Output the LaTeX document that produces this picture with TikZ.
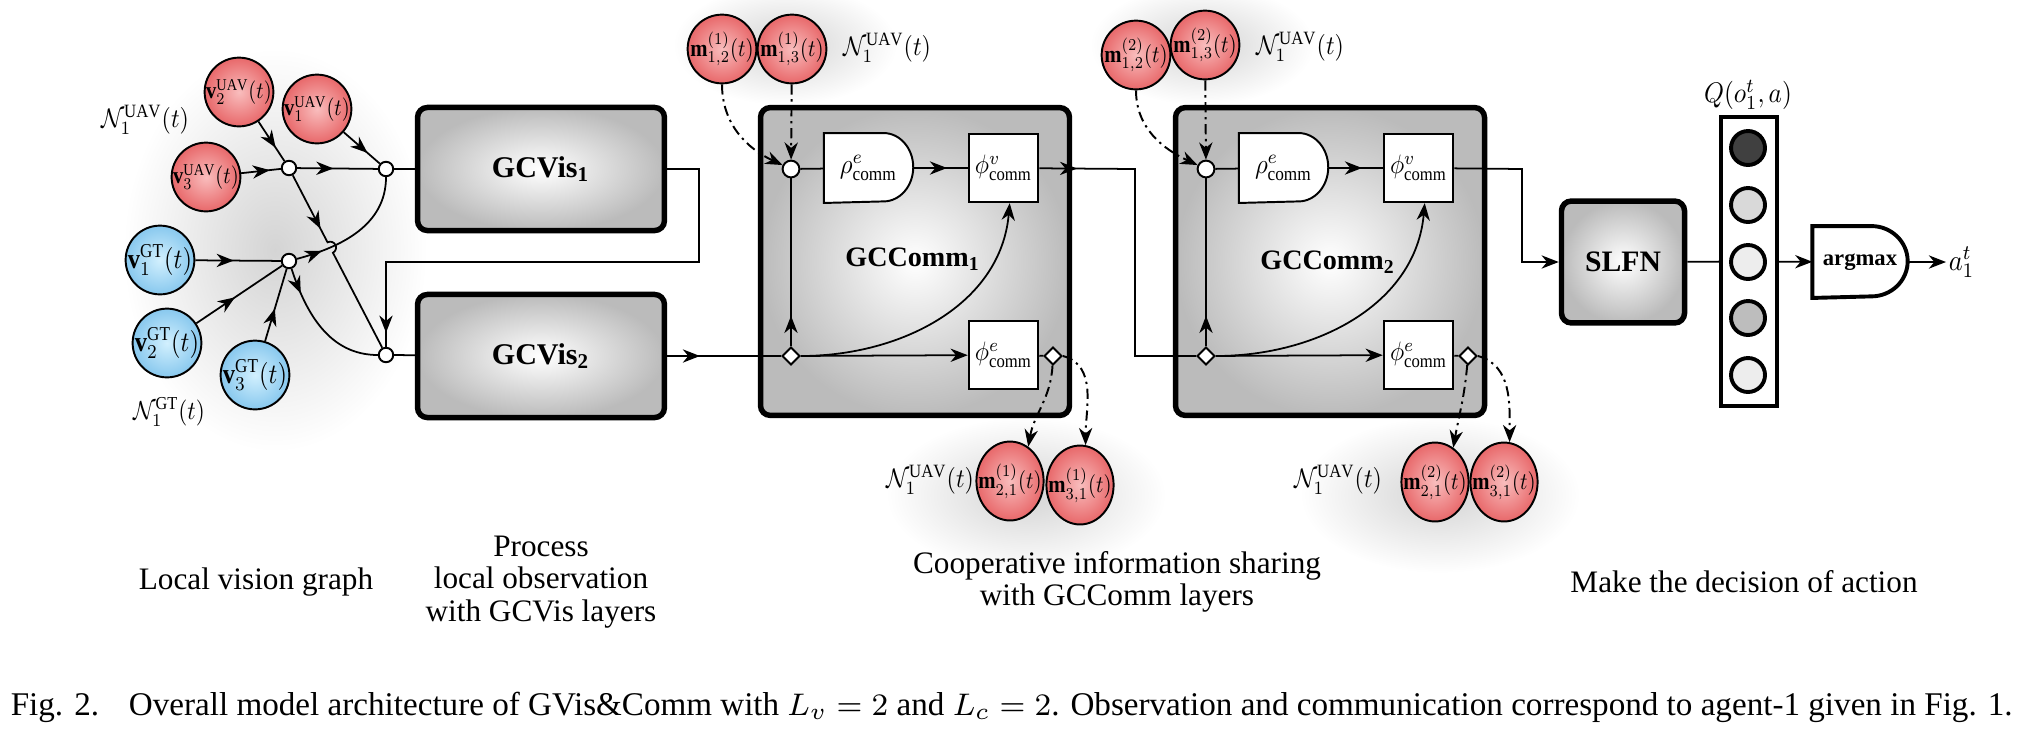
\documentclass[tikz,border=0pt]{standalone}
\usepackage{graphicx}
\usepackage{fontspec}
\setmainfont{Liberation Serif}
\usetikzlibrary{arrows.meta,decorations.markings,shapes.geometric,calc,intersections}
\definecolor{redin}{HTML}{F9BDBD}
\definecolor{redout}{HTML}{E8686A}
\definecolor{bluein}{HTML}{D2F0FE}
\definecolor{blueout}{HTML}{88C8EE}
\definecolor{boxout}{HTML}{BBBBBB}
\definecolor{shin}{HTML}{D4D4D4}
\definecolor{qdark}{HTML}{404040}
\definecolor{qmid}{HTML}{BDBDBD}
\definecolor{qlight}{HTML}{D9D9D9}
\definecolor{qvlight}{HTML}{EDEDED}
\newcommand{\fsz}[1]{\fontsize{#1}{#1}\selectfont}
\newcommand{\fitlab}[2]{\makebox[0pt]{\scalebox{1}[1.15]{\resizebox{#1}{!}{#2}}}}
\newcommand{\fitw}[2]{\scalebox{1}[1.12]{\resizebox{#1}{!}{#2}}}
\begin{document}
\begin{tikzpicture}[x=0.256pt,y=0.256pt,
  >={Stealth[length=4.4pt,width=3.4pt,inset=1.4pt]},
  conn/.style={line width=0.45pt},
  ddash/.style={line width=0.5pt,dash pattern=on 2.6pt off 1.2pt on 0.6pt off 1.2pt},
  marr/.style={postaction={decorate},decoration={markings,mark=at position #1 with {\arrow{>}}}},
  redv/.style={circle,draw,line width=0.5pt,inner color=redin,outer color=redout,minimum size=17.6pt,inner sep=0pt},
  redme/.style={ellipse,draw,line width=0.5pt,inner color=redin,outer color=redout,minimum width=17.2pt,minimum height=20.2pt,inner sep=0pt},
  bluev/.style={circle,draw,line width=0.5pt,inner color=bluein,outer color=blueout,minimum size=17.6pt,inner sep=0pt},
  junc/.style={circle,draw,fill=white,line width=0.5pt,inner sep=0pt,minimum size=3.7pt},
  dia/.style={diamond,draw,fill=white,line width=0.5pt,inner sep=0pt,minimum size=4.6pt},
  bigbox/.style={rectangle,rounded corners=2.5pt,draw,line width=1.4pt,inner color=white,outer color=boxout,font=\bfseries\fsz{7.7}},
  fnbox/.style={rectangle,draw,fill=white,line width=0.5pt,minimum width=17.8pt,minimum height=17.5pt,inner sep=0pt},
  dcore/.style={inner sep=0pt,minimum width=22.5pt,minimum height=17.5pt},
  dline/.style={line width=0.5pt,fill=white},
  lab/.style={font=\fontsize{8}{8.3}\selectfont,align=center},
  qc/.style={circle,draw,line width=1pt,inner sep=0pt,minimum size=8.7pt},
  shadow/.style={inner color=shin,outer color=white}
]
\useasboundingbox (0,0) rectangle (2018,-728);

% ---------- shadows ----------
\path[shadow] (275,-250) ellipse [x radius=152, y radius=202];
\path[shadow] (785,-45) ellipse [x radius=112, y radius=60];
\path[shadow] (1202,-45) ellipse [x radius=112, y radius=60];
\path[shadow] (1026,-495) ellipse [x radius=140, y radius=78];
\path[shadow] (1440,-495) ellipse [x radius=140, y radius=78];

% ---------- local vision graph ----------
\node[redv] (vU2) at (239,-92) {\fitlab{16.8pt}{$\mathbf{v}_2^{\mathrm{UAV}}(t)$}};
\node[redv] (vU1) at (317,-109) {\fitlab{16.8pt}{$\mathbf{v}_1^{\mathrm{UAV}}(t)$}};
\node[redv] (vU3) at (206,-177) {\fitlab{16.8pt}{$\mathbf{v}_3^{\mathrm{UAV}}(t)$}};
\node[bluev] (vG1) at (160,-260) {\fitlab{16.4pt}{$\mathbf{v}_1^{\mathrm{GT}}(t)$}};
\node[bluev] (vG2) at (167,-343) {\fitlab{16.4pt}{$\mathbf{v}_2^{\mathrm{GT}}(t)$}};
\node[bluev] (vG3) at (255,-375) {\fitlab{16.4pt}{$\mathbf{v}_3^{\mathrm{GT}}(t)$}};
\node (NU) at (145,-120) {\fitw{22.5pt}{$\mathcal{N}_1^{\mathrm{UAV}}(t)$}};
\node (NG) at (169,-412) {\fitw{18.4pt}{$\mathcal{N}_1^{\mathrm{GT}}(t)$}};
\node[junc] (jA) at (289,-168) {};
\node[junc] (jB) at (386,-169) {};
\node[junc] (jC) at (289,-261) {};
\node[junc] (jD) at (386,-355) {};

\draw[conn,marr=0.66] (vU2) -- (jA);
\draw[conn,marr=0.72] (vU3) -- (jA);
\draw[conn,marr=0.66] (vU1) -- (jB);
\draw[conn,marr=0.45] (jA) -- (jB);
\draw[conn,marr=0.45] (vG1) -- (jC);
\draw[conn,marr=0.45] (vG2) -- (jC);
\draw[conn,marr=0.45] (vG3) -- (jC);
\draw[conn,marr=0.2] (jC) to[out=15,in=-90] (jB);
\draw[conn,marr=0.2] (jC) to[out=-72,in=180] (jD);
\path[name path=cbp] (jC) to[out=15,in=-90] (jB);
\path[name path=adp] (jA) -- (jD);
\path[name intersections={of=cbp and adp, by=X}];
\draw[conn,marr=0.3] (jA) -- ($(X)!1.5pt!(jA)$) arc[start angle=117.4, end angle=-62.6, radius=1.5pt] -- (jD);

% ---------- GCVis ----------
\node[bigbox,minimum width=63.2pt,minimum height=31.5pt] (gv1) at (541,-169) {GCVis$_{\mathbf{1}}$};
\node[bigbox,minimum width=63.2pt,minimum height=31.5pt] (gv2) at (541,-356) {GCVis$_{\mathbf{2}}$};
\draw[conn] (jB) -- (gv1);
\draw[conn] (jD) -- (gv2);
\draw[conn,marr=-3.6pt] (gv1.east) -- (699,-169) -- (699,-262) -| (jD);

% ---------- GCComm 1 ----------
\node[bigbox,minimum width=79.1pt,minimum height=78.8pt] (gc1) at (915,-261.5) {};
\node[font=\bfseries\fsz{7.2}] (gc1t) at (913,-259) {GCComm$_{\mathbf{1}}$};
\node[junc,minimum size=4.3pt] (E1) at (791,-169) {};
\node[dcore] (rho1) at (868.5,-168) {};
\draw[dline] (rho1.south west) -- (rho1.north west) -- ([xshift=-7.6pt]rho1.north east) arc[start angle=90,end angle=-90,x radius=7.6pt,y radius=8.75pt] -- cycle;
\node (rho1t) at (rho1) {\fitw{14.6pt}{$\rho^e_{\mathrm{comm}}$}};
\node[fnbox] (pv1) at (1003.5,-168) {\fitw{14.6pt}{$\phi^v_{\mathrm{comm}}$}};
\node[fnbox] (pe1) at (1003.5,-355) {\fitw{14.6pt}{$\phi^e_{\mathrm{comm}}$}};
\node[dia] (F1) at (791,-356) {};
\node[dia] (G1) at (1053,-356) {};
\draw[conn,marr=8.4pt] (gv2) -- (F1);
\draw[conn] (E1) -- (rho1);
\draw[conn,marr=0.62] (rho1) -- (pv1);
\draw[conn,marr=0.18] (F1) -- (E1);
\draw[conn,->] (F1) -- (pe1);
\draw[conn,->] (F1) to[out=0,in=-95] (pv1.-80);
\draw[conn] (pe1) -- (G1);

\node[redv] (m112) at (722,-49) {\fitlab{16.2pt}{$\mathbf{m}^{(1)}_{1,2}(t)$}};
\node[redv] (m113) at (792,-49) {\fitlab{16.2pt}{$\mathbf{m}^{(1)}_{1,3}(t)$}};
\node (N1t) at (887,-48) {\fitw{22.5pt}{$\mathcal{N}_1^{\mathrm{UAV}}(t)$}};
\draw[ddash,->] (m112) to[out=-90,in=155] (E1);
\draw[ddash,->] (m113) -- (E1);

\node[redme] (m121) at (1010,-481) {\fitlab{16.2pt}{$\mathbf{m}^{(1)}_{2,1}(t)$}};
\node[redme] (m131) at (1080,-485) {\fitlab{16.2pt}{$\mathbf{m}^{(1)}_{3,1}(t)$}};
\node (N1b) at (930,-480) {\fitw{22.5pt}{$\mathcal{N}_1^{\mathrm{UAV}}(t)$}};
\draw[ddash,->] (G1) to[out=-93,in=80] (m121.62);
\draw[ddash,->] (G1.east) to[out=-15,in=90] (m131.82);

% ---------- GCComm 2 ----------
\node[bigbox,minimum width=79.1pt,minimum height=78.8pt] (gc2) at (1330,-261.5) {};
\node[font=\bfseries\fsz{7.2}] (gc2t) at (1328,-262) {GCComm$_{\mathbf{2}}$};
\node[junc,minimum size=4.3pt] (E2) at (1206,-169) {};
\node[dcore] (rho2) at (1283.5,-168) {};
\draw[dline] (rho2.south west) -- (rho2.north west) -- ([xshift=-7.6pt]rho2.north east) arc[start angle=90,end angle=-90,x radius=7.6pt,y radius=8.75pt] -- cycle;
\node (rho2t) at (rho2) {\fitw{14.6pt}{$\rho^e_{\mathrm{comm}}$}};
\node[fnbox] (pv2) at (1418.5,-168) {\fitw{14.6pt}{$\phi^v_{\mathrm{comm}}$}};
\node[fnbox] (pe2) at (1418.5,-355) {\fitw{14.6pt}{$\phi^e_{\mathrm{comm}}$}};
\node[dia] (F2) at (1206,-356) {};
\node[dia] (G2) at (1468,-356) {};
\draw[conn,marr=9.7pt] (pv1) -- (1135,-169) |- (F2);
\draw[conn] (E2) -- (rho2);
\draw[conn,marr=0.62] (rho2) -- (pv2);
\draw[conn,marr=0.18] (F2) -- (E2);
\draw[conn,->] (F2) -- (pe2);
\draw[conn,->] (F2) to[out=0,in=-95] (pv2.-80);
\draw[conn] (pe2) -- (G2);

\node[redv] (m212) at (1136,-55) {\fitlab{16.2pt}{$\mathbf{m}^{(2)}_{1,2}(t)$}};
\node[redv] (m213) at (1205,-45) {\fitlab{16.2pt}{$\mathbf{m}^{(2)}_{1,3}(t)$}};
\node (N2t) at (1300,-47) {\fitw{22.5pt}{$\mathcal{N}_1^{\mathrm{UAV}}(t)$}};
\draw[ddash,->] (m212) to[out=-90,in=155] (E2);
\draw[ddash,->] (m213) -- (E2);

\node[redme] (m221) at (1435,-482) {\fitlab{16.2pt}{$\mathbf{m}^{(2)}_{2,1}(t)$}};
\node[redme] (m231) at (1504,-482) {\fitlab{16.2pt}{$\mathbf{m}^{(2)}_{3,1}(t)$}};
\node (N2b) at (1338,-480) {\fitw{22.5pt}{$\mathcal{N}_1^{\mathrm{UAV}}(t)$}};
\draw[ddash,->] (G2) to[out=-95,in=80] (m221.62);
\draw[ddash,->] (G2.east) to[out=-15,in=90] (m231.82);

% ---------- decision ----------
\node[bigbox,minimum width=31.5pt,minimum height=31.2pt,font=\bfseries\fsz{7.6}] (slfn) at (1623,-262) {SLFN};
\draw[conn,->] (pv2) -- (1522,-169) |- (slfn);
\node[draw,line width=1pt,minimum width=14.3pt,minimum height=74pt,inner sep=0pt] (qcol) at (1749,-261.5) {};
\node[qc,fill=qdark] (q1) at (1748,-148) {};
\node[qc,fill=qlight] (q2) at (1748,-205) {};
\node[qc,fill=qvlight] (q3) at (1748,-262) {};
\node[qc,fill=qmid] (q4) at (1748,-318) {};
\node[qc,fill=qvlight] (q5) at (1748,-375) {};
\node (qlab) at (1748,-95) {\fitw{22.5pt}{$Q(o_1^t,a)$}};
\draw[conn] (slfn) -- (qcol);
\node[inner sep=0pt,minimum width=24pt,minimum height=18pt] (amx) at (1860,-262) {};
\draw[line width=1pt,fill=white] (amx.south west) -- (amx.north west) -- ([xshift=-9.3pt]amx.north east) arc[start angle=90,end angle=-90,x radius=9.3pt,y radius=9pt] -- cycle;
\node[font=\bfseries\fsz{5.8}] (amxt) at (amx) {argmax};
\draw[conn,->] (qcol) -- (amx);
\node[anchor=west,inner sep=0.5pt] (a1) at (1946,-262) {\fitw{6.6pt}{$a_1^t$}};
\draw[conn,->] (amx) -- (a1);

% ---------- labels ----------
\node[lab] (l1) at (256,-582) {Local vision graph};
\node[lab] (l2) at (541,-582) {Process\\local observation\\with GCVis layers};
\node[lab] (l3) at (1117,-582) {Cooperative information sharing\\with GCComm layers};
\node[lab] (l4) at (1744,-582) {Make the decision of action};
\node[font=\fsz{8.48},anchor=west,inner sep=0pt] (cap) at (10,-707) {Fig. 2.\hspace{0.9em}Overall model architecture of GVis\&Comm with $L_v=2$ and $L_c=2$. Observation and communication correspond to agent-1 given in Fig. 1.};
\end{tikzpicture}
\end{document}
